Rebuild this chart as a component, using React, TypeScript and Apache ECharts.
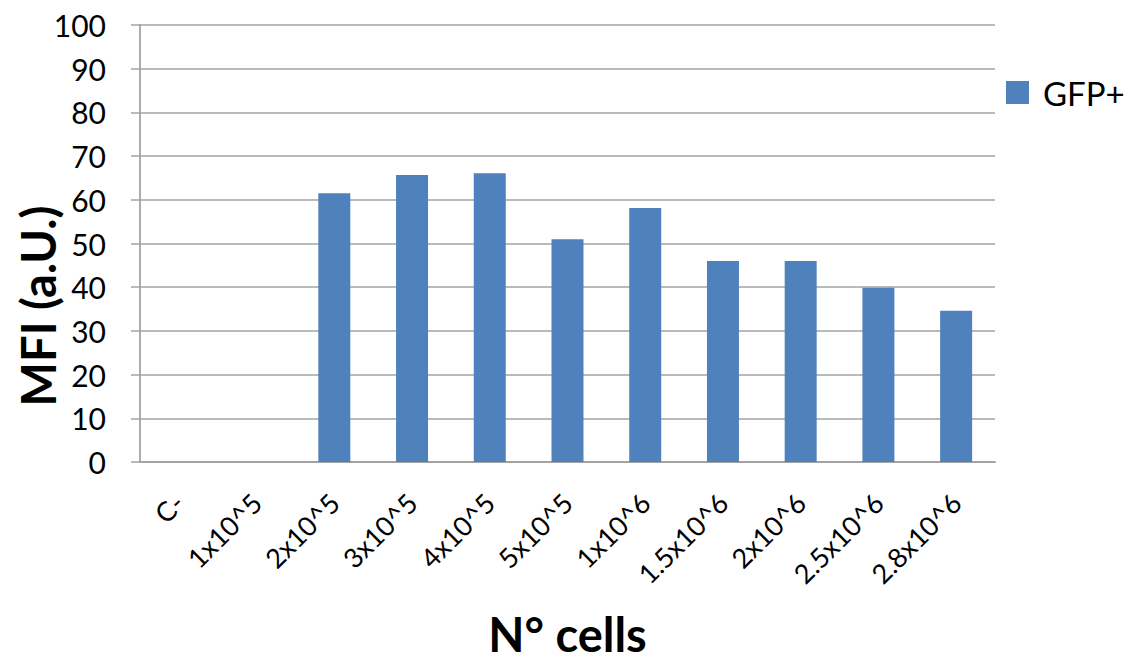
import React, { useEffect, useRef } from "react";
import * as echarts from "echarts";

const categories = ["C-", "1x10^5", "2x10^5", "3x10^5", "4x10^5", "5x10^5", "1x10^6", "1.5x10^6", "2x10^6", "2.5x10^6", "2.8x10^6"];
const gfpValues = [0, 0, 61.5, 65.7, 66.1, 51.0, 58.1, 46.0, 46.0, 39.9, 34.6];
const seriesName = "GFP+";
const yTitle = "MFI (a.U.)";
const xTitle = "N° cells";

const FONT = "Lato, 'Open Sans', sans-serif";
const GRID_GRAY = "#a3a3a3";

export default function App() {
  const ref = useRef<HTMLDivElement>(null);
  useEffect(() => {
    if (!ref.current) return;
    const chart = echarts.init(ref.current, undefined, { renderer: "svg" });
    chart.setOption({
      animation: false,
      backgroundColor: "#ffffff",
      textStyle: { fontFamily: FONT, color: "#000" },
      grid: { left: 140, top: 25, right: 145, bottom: 191, containLabel: false },
      legend: {
        show: true,
        left: 1006,
        top: 76,
        padding: 0,
        itemWidth: 23,
        itemHeight: 23,
        icon: "rect",
        textStyle: { fontFamily: FONT, fontSize: 33, color: "#000", padding: [0, 0, 0, 9] },
        data: [seriesName],
      },
      graphic: [
        {
          type: "text",
          x: 38,
          y: 306,
          rotation: Math.PI / 2,
          style: {
            text: yTitle,
            fontFamily: FONT,
            fontSize: 47,
            fontWeight: "bold",
            fill: "#000",
            textAlign: "center",
            textVerticalAlign: "middle",
          },
        },
      ],
      xAxis: {
        type: "category",
        data: categories,
        name: xTitle,
        nameLocation: "middle",
        nameGap: 148,
        nameTextStyle: { fontFamily: FONT, fontSize: 47, fontWeight: "bold", color: "#000" },
        axisLine: { show: true, lineStyle: { color: GRID_GRAY, width: 1.8 } },
        axisTick: { show: false },
        axisLabel: { interval: 0, rotate: 45, margin: 36, fontFamily: FONT, fontSize: 27, color: "#000" },
      },
      yAxis: {
        type: "value",
        min: 0,
        max: 100,
        interval: 10,
        axisLine: { show: true, lineStyle: { color: GRID_GRAY, width: 1.8 } },
        axisTick: { show: true, inside: false, length: 9, lineStyle: { color: GRID_GRAY, width: 1.5 } },
        axisLabel: { margin: 34, fontFamily: FONT, fontSize: 30, color: "#000" },
        splitLine: { show: true, lineStyle: { color: GRID_GRAY, width: 1.5 } },
      },
      series: [
        {
          name: seriesName,
          type: "bar",
          data: gfpValues,
          barWidth: 32,
          itemStyle: { color: "#4F81BD" },
        },
      ],
    });
    return () => chart.dispose();
  }, []);
  return (
    <div
      ref={ref}
      style={{ position: "absolute", left: 0, top: 0, width: 1140, height: 662 }}
    />
  );
}
